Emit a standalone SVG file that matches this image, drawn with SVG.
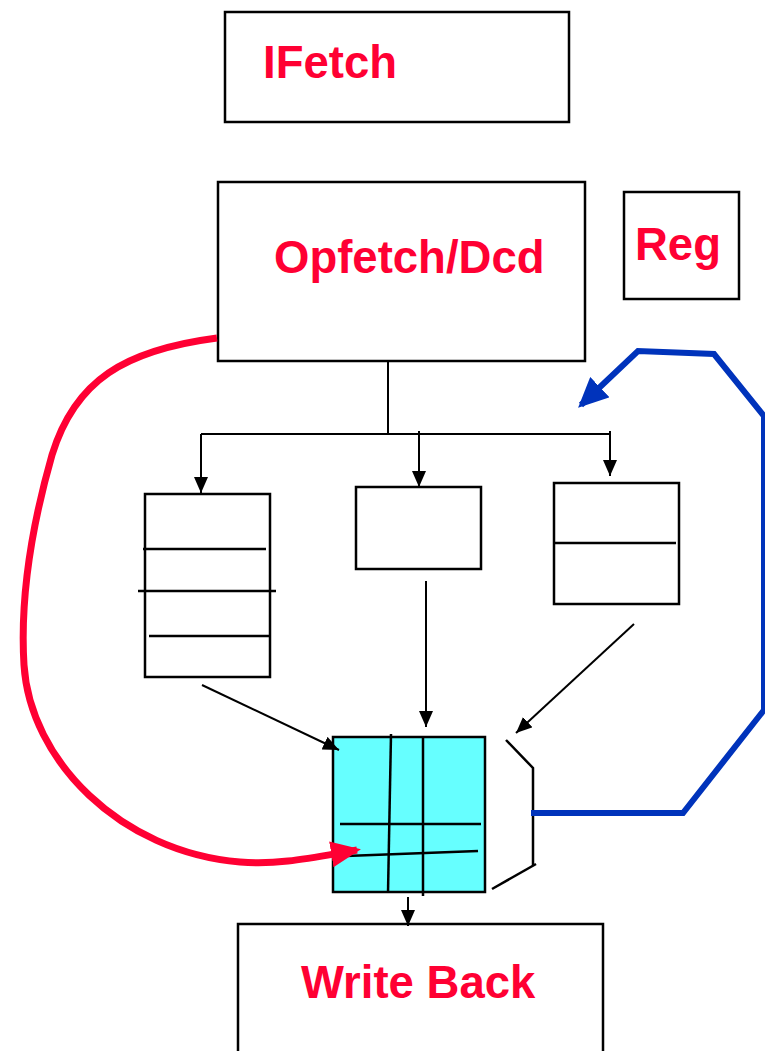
<svg xmlns="http://www.w3.org/2000/svg" width="765" height="1051" viewBox="0 0 765 1051">
  <style>
    .box { fill: #ffffff; stroke: #000000; stroke-width: 2.5; }
    .alu { fill: #66ffff; stroke: #000000; stroke-width: 2.5; }
    .rule { stroke: #000000; stroke-width: 2.5; fill: none; }
    .wire { stroke: #000000; stroke-width: 2; fill: none; }
    .arrow { stroke: #000000; stroke-width: 2; fill: none; marker-end: url(#head); }
    .label { font-family: "Liberation Sans", Arial, sans-serif; font-weight: bold; font-size: 45.5px; fill: #ff0033; }
    .red { stroke: #ff0033; stroke-width: 7; fill: none; marker-end: url(#redhead); }
    .blue { stroke: #0033bb; stroke-width: 6; fill: none; marker-end: url(#bluehead); stroke-linejoin: miter; }
  </style>
  <defs>
    <marker id="head" markerUnits="userSpaceOnUse" markerWidth="16" markerHeight="14" refX="16" refY="7" orient="auto">
      <path d="M0,0 L16,7 L0,14 Z" fill="#000000"/>
    </marker>
    <marker id="redhead" markerUnits="userSpaceOnUse" markerWidth="30" markerHeight="26" refX="26" refY="13" orient="auto">
      <path d="M0,0 L30,13 L0,26 Z" fill="#ff0033"/>
    </marker>
    <marker id="bluehead" markerUnits="userSpaceOnUse" markerWidth="30" markerHeight="28" refX="26" refY="14" orient="auto">
      <path d="M0,0 L30,14 L0,28 Z" fill="#0033bb"/>
    </marker>
  </defs>

  <!-- pipeline stages -->
  <g id="ifetch">
    <rect class="box" x="225" y="12" width="344" height="110"/>
    <text class="label" x="263" y="78">IFetch</text>
  </g>
  <g id="opfetch">
    <rect class="box" x="218" y="182" width="367" height="179"/>
    <text class="label" x="274" y="273">Opfetch/Dcd</text>
  </g>
  <g id="reg">
    <rect class="box" x="624" y="192" width="115" height="107"/>
    <text class="label" x="635" y="260">Reg</text>
  </g>

  <!-- issue queues -->
  <g id="queue-left">
    <rect class="box" x="145" y="494" width="125" height="183"/>
    <line class="rule" x1="143" y1="549" x2="266" y2="549"/>
    <line class="rule" x1="138" y1="591" x2="276" y2="591"/>
    <line class="rule" x1="149" y1="636" x2="269" y2="636"/>
  </g>
  <g id="queue-mid">
    <rect class="box" x="356" y="487" width="125" height="82"/>
  </g>
  <g id="queue-right">
    <rect class="box" x="554" y="483" width="125" height="121"/>
    <line class="rule" x1="554" y1="543" x2="676" y2="543"/>
  </g>

  <!-- execution unit -->
  <g id="exec">
    <rect class="alu" x="333" y="737" width="152" height="155"/>
    <line class="rule" x1="391" y1="734" x2="388" y2="893"/>
    <line class="rule" x1="423" y1="737" x2="423" y2="896"/>
    <line class="rule" x1="340" y1="824" x2="481" y2="824"/>
    <line class="rule" x1="346" y1="856" x2="478" y2="851"/>
  </g>
  <g id="bracket">
    <polyline class="rule" points="506,740 533,768 533,866"/>
    <line class="rule" x1="536" y1="864" x2="492" y2="889"/>
  </g>

  <g id="writeback">
    <rect class="box" x="238" y="924" width="365" height="140"/>
    <text class="label" x="301" y="998">Write Back</text>
  </g>

  <!-- connectors -->
  <g id="connectors">
    <line class="wire" x1="388" y1="361" x2="388" y2="434"/>
    <line class="wire" x1="201" y1="434" x2="610" y2="434"/>
    <line class="arrow" x1="201" y1="434" x2="201" y2="493"/>
    <line class="arrow" x1="419" y1="431" x2="419" y2="487"/>
    <line class="arrow" x1="610" y1="431" x2="610" y2="476"/>
    <line class="arrow" x1="202" y1="685" x2="339" y2="750"/>
    <line class="arrow" x1="426" y1="581" x2="426" y2="727"/>
    <line class="arrow" x1="634" y1="624" x2="516" y2="733"/>
    <line class="arrow" x1="408" y1="897" x2="408" y2="926"/>
    <path class="red" d="M217,338 C125,350 75,380 52,455 C32,525 20,600 24,665 C30,760 120,852 240,862 C280,865 310,858 357,850"/>
    <polyline class="blue" points="531,813 683,813 764,710 764,416 714,354 638,351 581,405"/>
  </g>
</svg>
